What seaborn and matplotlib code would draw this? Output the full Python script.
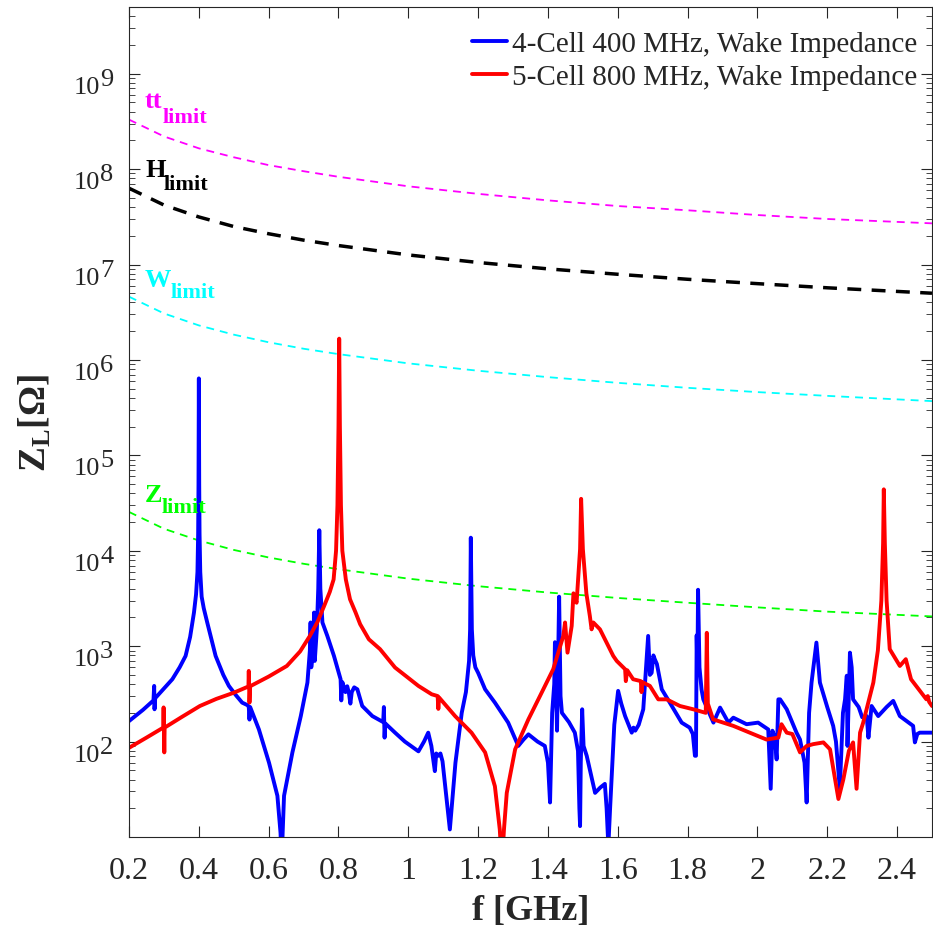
import numpy as np
import matplotlib
matplotlib.use("Agg")
import matplotlib.pyplot as plt
import matplotlib.ticker as mticker
from matplotlib.transforms import blended_transform_factory, offset_copy
import seaborn as sns

# 4-cell 400 MHz wake impedance
blue_f = [0.200, 0.240, 0.270, 0.272, 0.273, 0.275, 0.300, 0.324, 0.345, 0.362, 0.375, 0.386,
          0.392, 0.396, 0.398, 0.399, 0.400, 0.401, 0.402, 0.404, 0.408, 0.414, 0.424, 0.448,
          0.470, 0.486, 0.505, 0.524, 0.540, 0.543, 0.545, 0.547, 0.572, 0.601, 0.625, 0.634,
          0.637, 0.640, 0.644, 0.668, 0.692, 0.711, 0.718, 0.720, 0.722, 0.728, 0.730, 0.732,
          0.738, 0.742, 0.745, 0.748, 0.754, 0.768, 0.787, 0.806, 0.808, 0.811, 0.820, 0.825,
          0.830, 0.834, 0.838, 0.845, 0.854, 0.868, 0.897, 0.928, 0.930, 0.932, 0.934, 0.962,
          0.990, 1.029, 1.045, 1.057, 1.066, 1.076, 1.080, 1.086, 1.092, 1.098, 1.119, 1.135,
          1.153, 1.165, 1.174, 1.177, 1.179, 1.182, 1.186, 1.192, 1.200, 1.220, 1.248, 1.286,
          1.315, 1.330, 1.344, 1.370, 1.391, 1.400, 1.406, 1.412, 1.418, 1.420, 1.426, 1.432,
          1.436, 1.440, 1.460, 1.477, 1.486, 1.490, 1.492, 1.494, 1.498, 1.502, 1.511, 1.535,
          1.550, 1.563, 1.568, 1.573, 1.578, 1.590, 1.601, 1.610, 1.621, 1.640, 1.645, 1.650,
          1.660, 1.673, 1.687, 1.692, 1.697, 1.702, 1.706, 1.712, 1.726, 1.749, 1.783, 1.806,
          1.815, 1.821, 1.824, 1.826, 1.828, 1.830, 1.834, 1.840, 1.845, 1.874, 1.893, 1.917,
          1.931, 1.969, 2.002, 2.031, 2.038, 2.043, 2.050, 2.055, 2.060, 2.065, 2.084, 2.112,
          2.122, 2.135, 2.141, 2.148, 2.155, 2.169, 2.179, 2.200, 2.217, 2.225, 2.236, 2.245,
          2.251, 2.256, 2.258, 2.265, 2.270, 2.274, 2.290, 2.300, 2.313, 2.318, 2.327, 2.346,
          2.370, 2.389, 2.408, 2.446, 2.451, 2.458, 2.465, 2.500]
blue_z = [164, 215, 270, 383, 218, 285, 360, 450, 600, 790, 1250, 2250,
          3500, 6000, 1.5e4, 5.0e4, 6.4e5, 5.0e4, 1.5e4, 6000, 3300, 2500, 1770, 790,
          500, 383, 310, 256, 240, 230, 170, 230, 134, 60, 27, 11,
          5, 11, 27, 77, 185, 415, 900, 1770, 600, 1000, 2250, 700,
          1500, 4000, 1.64e4, 4000, 1770, 1280, 790, 450, 270, 420, 330, 380,
          320, 250, 330, 370, 353, 236, 185, 160, 230, 110, 155, 124,
          100, 79, 100, 124, 90, 49, 75, 71, 75, 62, 12, 60,
          200, 330, 700, 1500, 1.37e4, 1500, 800, 600, 525, 353, 256, 158,
          90, 105, 119, 100, 90, 60, 23, 200, 400, 1100, 130, 3300,
          300, 200, 160, 124, 80, 20, 13, 60, 218, 90, 71, 29,
          33, 36, 20, 8, 20, 150, 340, 250, 185, 124, 140, 130,
          150, 218, 1280, 500, 525, 800, 730, 650, 353, 256, 158, 140,
          120, 71, 71, 1300, 500, 3900, 600, 350, 277, 158, 227, 158,
          178, 152, 158, 134, 32, 130, 110, 65, 277, 277, 218, 124,
          105, 60, 23, 200, 415, 1090, 415, 230, 146, 100, 32, 200,
          277, 490, 90, 855, 600, 277, 230, 180, 185, 110, 236, 185,
          230, 267, 185, 146, 98, 120, 124, 124]

# 5-cell 800 MHz wake impedance
red_f = [0.200, 0.250, 0.298, 0.299, 0.301, 0.302, 0.350, 0.403, 0.450, 0.500, 0.542, 0.543,
         0.545, 0.547, 0.600, 0.652, 0.690, 0.718, 0.740, 0.760, 0.775, 0.786, 0.793, 0.797,
         0.800, 0.802, 0.804, 0.807, 0.811, 0.821, 0.833, 0.849, 0.862, 0.887, 0.919, 0.962,
         0.995, 1.029, 1.067, 1.084, 1.086, 1.088, 1.134, 1.181, 1.220, 1.248, 1.262, 1.268,
         1.274, 1.282, 1.306, 1.344, 1.382, 1.415, 1.444, 1.449, 1.456, 1.468, 1.473, 1.482,
         1.492, 1.495, 1.500, 1.510, 1.520, 1.525, 1.530, 1.549, 1.587, 1.597, 1.621, 1.623,
         1.627, 1.644, 1.666, 1.668, 1.670, 1.692, 1.716, 1.740, 1.778, 1.816, 1.852, 1.855,
         1.858, 1.873, 1.931, 1.978, 2.026, 2.060, 2.069, 2.084, 2.100, 2.122, 2.141, 2.160,
         2.189, 2.208, 2.232, 2.246, 2.262, 2.274, 2.284, 2.294, 2.303, 2.332, 2.345, 2.355,
         2.360, 2.362, 2.365, 2.370, 2.379, 2.408, 2.425, 2.440, 2.484, 2.488, 2.492, 2.500]
red_z = [86, 110, 140, 228, 77, 140, 180, 236, 280, 325, 378, 550,
         256, 380, 480, 620, 880, 1280, 1800, 2700, 3700, 5000, 1.0e4, 3.0e4,
         2.0e5, 1.67e6, 2.0e5, 3.0e4, 1.0e4, 5000, 3100, 2250, 1700, 1180, 930, 597,
         480, 383, 313, 300, 220, 290, 185, 124, 77, 34, 12, 5,
         12, 29, 83, 171, 326, 573, 1280, 1770, 855, 1630, 3580, 2850,
         1.04e4, 3.5e4, 1.04e4, 3580, 2070, 1500, 1770, 1500, 790, 700, 573, 430,
         560, 450, 430, 330, 420, 383, 277, 277, 236, 218, 200, 1380,
         250, 171, 146, 124, 105, 110, 152, 124, 120, 77, 90, 94,
         98, 83, 25, 40, 80, 98, 32, 124, 158, 415, 900, 3000,
         1.2e4, 4.4e4, 1.2e4, 3000, 930, 620, 730, 450, 277, 300, 260, 236]

# instability limits (dashed)
lim_f = [0.2, 0.3, 0.4, 0.5, 0.6, 0.7, 0.8, 1.0, 1.2, 1.4, 1.6, 1.8, 2.0, 2.2, 2.5]
tt_lim = [3.3e8, 2.2e8, 1.65e8, 1.33e8, 1.1e8, 9.5e7, 8.3e7, 6.6e7, 5.5e7, 4.7e7, 4.1e7,
          3.7e7, 3.3e7, 3.0e7, 2.7e7]
h_lim = [6.3e7, 4.2e7, 3.15e7, 2.5e7, 2.1e7, 1.8e7, 1.58e7, 1.26e7, 1.05e7, 9.0e6, 7.9e6,
         7.0e6, 6.3e6, 5.7e6, 5.0e6]
w_lim = [4.6e6, 3.07e6, 2.3e6, 1.84e6, 1.53e6, 1.31e6, 1.15e6, 9.2e5, 7.7e5, 6.6e5, 5.75e5,
         5.1e5, 4.6e5, 4.2e5, 3.7e5]
z_lim = [2.55e4, 1.7e4, 1.28e4, 1.02e4, 8.5e3, 7.3e3, 6.4e3, 5.1e3, 4.25e3, 3.65e3, 3.2e3,
         2.85e3, 2.55e3, 2.3e3, 2.05e3]

x_ticks = [0.2, 0.4, 0.6, 0.8, 1.0, 1.2, 1.4, 1.6, 1.8, 2.0, 2.2, 2.4]
x_labels = ["0.2", "0.4", "0.6", "0.8", "1", "1.2", "1.4", "1.6", "1.8", "2", "2.2", "2.4"]
y_exps = [2, 3, 4, 5, 6, 7, 8, 9]

sns.set_theme(style="ticks")
plt.rcParams["font.family"] = ["Liberation Serif", "DejaVu Serif"]
plt.rcParams["mathtext.fontset"] = "custom"
plt.rcParams["mathtext.rm"] = "Liberation Serif"
plt.rcParams["mathtext.it"] = "Liberation Serif:italic"
plt.rcParams["mathtext.bf"] = "Liberation Serif:bold"

fig = plt.figure(figsize=(9.33, 9.28), dpi=100)
ax = fig.add_axes([0.1383, 0.097, 0.8606, 0.8944])
dark = "#262626"

ax.plot(lim_f, tt_lim, color="#ff00ff", lw=1.3, dashes=(4.4, 3.3))
ax.plot(lim_f, h_lim, color="black", lw=2.5, dashes=(4, 3))
ax.plot(lim_f, w_lim, color="#00ffff", lw=1.3, dashes=(4.4, 3.3))
ax.plot(lim_f, z_lim, color="#00ff00", lw=1.3, dashes=(4.4, 3.3))

sns.lineplot(x=blue_f, y=blue_z, ax=ax, color="#0000ff", lw=2.8, sort=False, estimator=None,
             label="4-Cell 400 MHz, Wake Impedance")
sns.lineplot(x=red_f, y=red_z, ax=ax, color="#ff0000", lw=2.8, sort=False, estimator=None,
             label="5-Cell 800 MHz, Wake Impedance")

ax.set_yscale("log")
ax.set_xlim(0.2, 2.5)
ax.set_ylim(10, 5e9)
ax.set_xticks(x_ticks)
ax.set_xticklabels(x_labels)
ax.yaxis.set_major_locator(mticker.FixedLocator([10.0 ** k for k in y_exps]))
ax.yaxis.set_minor_locator(mticker.LogLocator(base=10, subs=np.arange(2, 10), numticks=20))
ax.yaxis.set_major_formatter(mticker.NullFormatter())
ax.yaxis.set_minor_formatter(mticker.NullFormatter())

ax.tick_params(axis="both", which="both", direction="in", top=True, right=True,
               colors=dark, labelsize=23)
ax.tick_params(axis="both", which="major", length=8, width=0.8)
ax.tick_params(axis="y", which="minor", length=4, width=0.6)
ax.tick_params(axis="x", pad=14)
for s in ax.spines.values():
    s.set_color(dark)
    s.set_linewidth(0.8)

# y tick labels: 10 with a near full-size exponent, MATLAB style
ytrans = blended_transform_factory(ax.transAxes, ax.transData)
for k in y_exps:
    ax.text(0, 10.0 ** k, "10", transform=offset_copy(ytrans, fig=fig, x=-29, y=-19, units="dots"),
            ha="right", va="baseline", fontsize=19, color=dark)
    ax.text(0, 10.0 ** k, str(k), transform=offset_copy(ytrans, fig=fig, x=-29, y=-11, units="dots"),
            ha="left", va="baseline", fontsize=19, color=dark)

ax.set_xlabel("f [GHz]", fontsize=26, fontweight="bold", color=dark, labelpad=6)
ax.set_ylabel(r"$\mathbf{Z_L}$[Ω]", fontsize=27, fontweight="bold", color=dark)
ax.yaxis.set_label_coords(-0.094, 0.5)

# limit labels: main letters plus subscript
lim_labels = [("tt", "#ff00ff", 8.650, 8.495, 0.297),
              ("H", "black", 7.929, 7.789, 0.300),
              ("W", "#00ffff", 6.776, 6.657, 0.320),
              ("Z", "#00ff00", 4.522, 4.404, 0.2945)]
for name, col, yb, ys, xs in lim_labels:
    ax.text(0.2458, 10 ** yb, name, color=col, fontsize=19, fontweight="bold", va="baseline")
    ax.text(xs, 10 ** ys, "limit", color=col, fontsize=16, fontweight="bold", va="baseline")

ax.legend(loc="upper right", bbox_to_anchor=(1.011, 1.0), frameon=False, fontsize=21,
          handlelength=1.2, handletextpad=0.17, borderaxespad=0.35, borderpad=0.45,
          labelspacing=0.25)

fig.savefig("out.png", dpi=100)
